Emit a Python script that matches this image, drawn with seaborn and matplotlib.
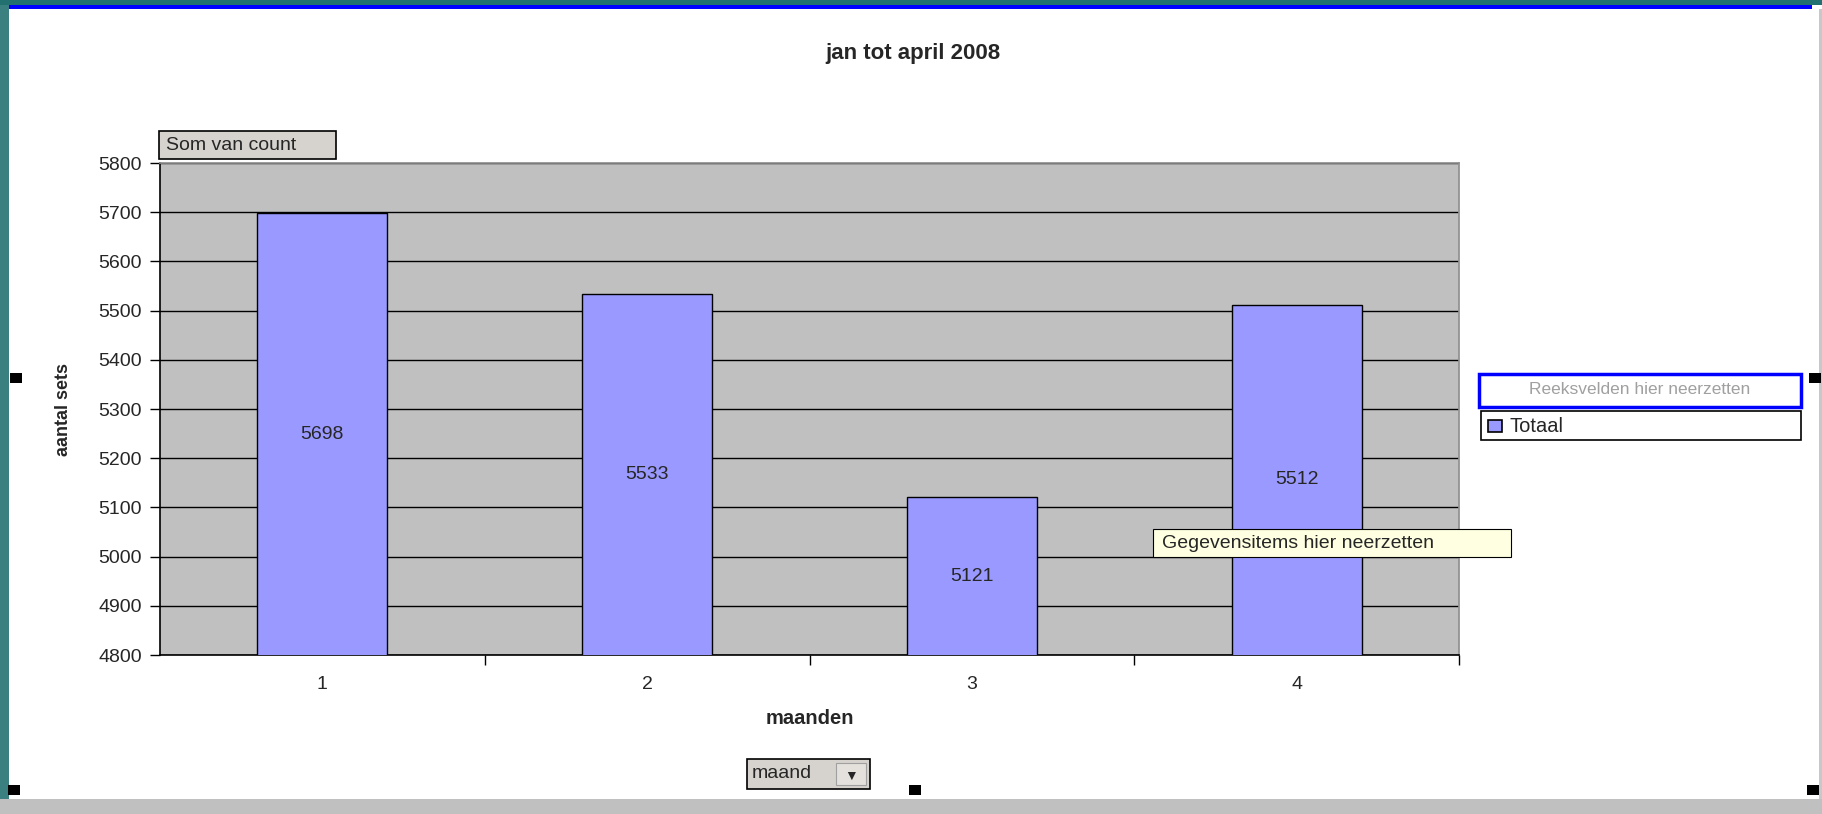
import matplotlib
matplotlib.use('Agg')
import matplotlib.pyplot as plt
import matplotlib.patches as mpatches
import seaborn as sns
import pandas as pd

# data
months = ['1', '2', '3', '4']
counts = [5698, 5533, 5121, 5512]
y_ticks = list(range(4800, 5801, 100))

W, H = 1822, 814
sns.set_theme(style='white')
plt.rcParams['font.family'] = ['Liberation Sans', 'DejaVu Sans']

fig = plt.figure(figsize=(W / 100, H / 100), dpi=100)
fig.patch.set_facecolor('white')


def px(x0, y0, x1, y1):
    # pixel box (top-left origin) -> figure fraction rect
    return [x0 / W, 1 - y1 / H, (x1 - x0) / W, (y1 - y0) / H]


def box(x0, y0, x1, y1, fc, ec='none', lw=1.0, z=5):
    r = px(x0, y0, x1, y1)
    fig.patches.append(mpatches.Rectangle((r[0], r[1]), r[2], r[3], transform=fig.transFigure,
                                          facecolor=fc, edgecolor=ec, linewidth=lw, zorder=z))


# window frame bits
box(0, 0, 9, H, '#3a8080', z=1)
box(0, 0, W, 5, '#237070', z=1)
box(9, 5, 1812, 9, '#0000ff', z=2)
box(0, 799, W, H, '#c0c0c0', z=1)
box(1819, 9, W, 799, '#c8c8c8', z=1)

ax = fig.add_axes(px(160, 163, 1459, 655))
df = pd.DataFrame({'maand': months, 'count': counts})
sns.barplot(data=df, x='maand', y='count', color='#9999ff', width=0.4,
            edgecolor='black', linewidth=1.0, saturation=1, ax=ax, zorder=3)
ax.set_facecolor('#c0c0c0')
ax.set_ylim(4800, 5800)
ax.set_xlim(-0.5, 3.5)
ax.set_yticks(y_ticks)
ax.yaxis.grid(True, color='black', linewidth=1.0)
ax.set_axisbelow(True)
for s in ['top', 'right']:
    ax.spines[s].set_color('#909090')
for s in ['left', 'bottom']:
    ax.spines[s].set_color('black')
    ax.spines[s].set_linewidth(1.2)

ax.tick_params(axis='y', left=True, length=7, width=1, color='black', labelsize=14, pad=6)
ax.set_xticks([0.5, 1.5, 2.5, 3.5], minor=False)
ax.set_xticklabels([])
ax.set_xticks([0, 1, 2, 3], minor=True)
ax.set_xticklabels(months, minor=True, fontsize=14)
ax.tick_params(axis='x', which='major', bottom=True, length=7, width=1, color='black')
ax.tick_params(axis='x', which='minor', bottom=False, pad=11)

for i, v in enumerate(counts):
    ax.text(i, (v + 4800) / 2, str(v), ha='center', va='center', fontsize=14, zorder=4)

ax.set_xlabel('maanden', fontsize=14.5, fontweight='bold', labelpad=12)
ax.set_ylabel('aantal sets', fontsize=13, fontweight='bold', labelpad=19)
fig.text(913 / W, 1 - 53 / H, 'jan tot april 2008', ha='center', va='center',
         fontsize=16, fontweight='bold')

# pivot-chart buttons
box(159, 131, 336, 159, '#d6d3ce', ec='black', lw=1.2, z=6)
fig.text(166 / W, 1 - 145 / H, 'Som van count', ha='left', va='center', fontsize=14, zorder=7)
box(747, 759, 870, 789, '#d6d3ce', ec='black', lw=1.2, z=6)
box(836, 763, 866, 785, '#e4e1dc', ec='#a0a0a0', lw=0.8, z=7)
fig.text(752 / W, 1 - 774 / H, 'maand', ha='left', va='center', fontsize=14, zorder=8)
fig.text(851 / W, 1 - 776 / H, '\u25bc', ha='center', va='center', fontsize=10, zorder=8)

# legend / drop zones
box(1479, 374, 1801, 407, 'white', ec='#0000ff', lw=2.5, z=6)
fig.text(1640 / W, 1 - 390 / H, 'Reeksvelden hier neerzetten', ha='center', va='center',
         fontsize=12.5, color='#a0a0a0', zorder=7)
box(1481, 411, 1801, 440, 'white', ec='black', lw=1.2, z=6)
box(1488, 420, 1502, 432, '#9999ff', ec='black', lw=1.2, z=7)
fig.text(1509 / W, 1 - 426 / H, 'Totaal', ha='left', va='center', fontsize=14.5, zorder=7)

# tooltip
box(1153, 529, 1511, 557, '#ffffe1', ec='black', lw=0.8, z=6)
fig.text(1162 / W, 1 - 543 / H, 'Gegevensitems hier neerzetten', ha='left', va='center',
         fontsize=14, zorder=7)

# selection handles
for hx, hy in [(16, 378), (1815, 378), (14, 790), (915, 790), (1813, 790)]:
    box(hx - 6, hy - 5, hx + 6, hy + 5, 'black', z=8)

fig.savefig('out.png', dpi=100)
